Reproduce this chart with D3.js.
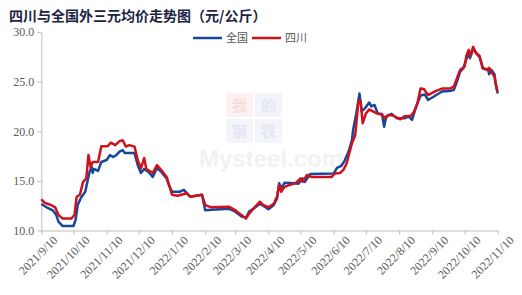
<!DOCTYPE html>
<html>
<head>
<meta charset="utf-8">
<script src="https://cdn.jsdelivr.net/npm/d3@7"></script>
<style>
  body { margin: 0; background: #fff; }
</style>
</head>
<body>
<div id="chart"></div>
<script>
// 全国 series
let qgDates = ['2021-09-10','2021-09-16','2021-09-21','2021-09-24','2021-09-26','2021-09-30','2021-10-10','2021-10-12','2021-10-14','2021-10-17',
  '2021-10-21','2021-10-23','2021-10-25','2021-10-27','2021-10-28','2021-10-29','2021-11-02','2021-11-05','2021-11-10','2021-11-13',
  '2021-11-16','2021-11-19','2021-11-22','2021-11-25','2021-11-27','2021-12-06','2021-12-09','2021-12-12','2021-12-15','2021-12-19',
  '2021-12-23','2021-12-27','2021-12-31','2022-01-05','2022-01-07','2022-01-10','2022-01-17','2022-01-21','2022-01-24','2022-01-27',
  '2022-02-07','2022-02-10','2022-02-16','2022-03-04','2022-03-10','2022-03-16','2022-03-20','2022-03-23','2022-03-27','2022-04-02',
  '2022-04-05','2022-04-10','2022-04-15','2022-04-18','2022-04-20','2022-04-22','2022-04-25','2022-05-05','2022-05-08','2022-05-12',
  '2022-05-14','2022-05-19','2022-06-10','2022-06-13','2022-06-17','2022-06-20','2022-06-24','2022-06-27','2022-06-28','2022-07-01',
  '2022-07-04','2022-07-06','2022-07-09','2022-07-13','2022-07-15','2022-07-18','2022-07-21','2022-07-25','2022-07-27','2022-07-29',
  '2022-08-03','2022-08-08','2022-08-15','2022-08-19','2022-08-22','2022-08-26','2022-08-30','2022-09-03','2022-09-06','2022-09-13',
  '2022-09-19','2022-09-26','2022-09-30','2022-10-03','2022-10-06','2022-10-09','2022-10-12','2022-10-14','2022-10-15','2022-10-18',
  '2022-10-21','2022-10-24','2022-10-26','2022-10-27','2022-11-01','2022-11-02','2022-11-04','2022-11-07','2022-11-08','2022-11-10'];
let qgValues = [12.67,12.27,12.0,11.56,10.9,10.45,10.45,11.06,12.57,13.3,
  13.9,14.9,15.9,16.4,15.8,16.2,16.0,16.9,17.1,17.6,
  17.4,17.6,17.95,18.1,17.8,17.8,16.6,15.8,16.2,15.9,
  15.4,16.3,15.9,15.25,14.6,13.9,13.9,14.1,13.75,13.4,
  13.6,12.05,12.1,12.2,11.9,11.4,11.3,11.9,12.2,12.7,
  12.5,12.15,12.57,13.2,14.75,14.25,14.8,14.75,14.7,15.25,
  14.9,15.7,15.75,16.3,16.5,17.0,18.0,19.1,20.1,21.8,
  23.8,22.0,22.3,22.9,22.5,22.65,21.8,21.75,20.45,21.5,
  21.75,21.3,21.3,21.5,21.15,22.5,23.6,23.7,23.15,23.6,
  24.0,24.05,24.15,25.0,26.0,26.35,27.35,28.0,27.35,28.35,
  27.85,27.5,26.85,26.35,26.2,25.75,26.2,25.75,24.85,23.8];

// 四川 series
let scDates = ['2021-09-10','2021-09-13','2021-09-19','2021-09-23','2021-09-26','2021-09-30','2021-10-08','2021-10-11','2021-10-13','2021-10-16',
  '2021-10-19','2021-10-22','2021-10-24','2021-10-26','2021-10-28','2021-11-02','2021-11-05','2021-11-11','2021-11-14','2021-11-18',
  '2021-11-22','2021-11-25','2021-11-28','2021-12-01','2021-12-06','2021-12-09','2021-12-12','2021-12-15','2021-12-17','2021-12-23',
  '2021-12-27','2021-12-31','2022-01-05','2022-01-07','2022-01-10','2022-01-15','2022-01-24','2022-01-27','2022-02-07','2022-02-10',
  '2022-02-15','2022-03-04','2022-03-10','2022-03-16','2022-03-20','2022-03-23','2022-03-27','2022-04-02','2022-04-05','2022-04-10',
  '2022-04-15','2022-04-18','2022-04-20','2022-04-22','2022-04-25','2022-04-30','2022-05-05','2022-05-10','2022-05-12','2022-05-16',
  '2022-05-20','2022-06-08','2022-06-11','2022-06-16','2022-06-19','2022-06-22','2022-06-24','2022-06-27','2022-06-30','2022-07-03',
  '2022-07-05','2022-07-07','2022-07-10','2022-07-13','2022-07-20','2022-07-25','2022-07-28','2022-07-31','2022-08-05','2022-08-11',
  '2022-08-15','2022-08-21','2022-08-24','2022-08-27','2022-08-30','2022-09-02','2022-09-06','2022-09-13','2022-09-19','2022-09-26',
  '2022-09-30','2022-10-03','2022-10-06','2022-10-10','2022-10-12','2022-10-14','2022-10-16','2022-10-18','2022-10-21','2022-10-24',
  '2022-10-27','2022-10-31','2022-11-02','2022-11-04','2022-11-07','2022-11-09','2022-11-10'];
let scValues = [13.15,12.8,12.57,12.34,11.56,11.2,11.2,11.56,13.4,13.6,
  14.9,15.25,17.6,16.4,16.9,16.9,18.5,18.5,18.85,18.6,
  19.0,19.1,18.45,18.6,18.45,17.1,16.25,17.3,16.2,15.8,
  16.6,16.1,15.4,14.7,13.6,13.5,13.75,13.4,13.6,12.55,
  12.35,12.4,12.05,11.55,11.2,11.7,12.2,12.9,12.57,12.35,
  12.7,13.4,14.6,13.9,14.4,14.6,14.75,15.25,14.9,15.6,
  15.4,15.4,15.75,15.8,16.1,16.75,17.6,18.8,19.6,23.0,
  23.1,20.8,21.8,22.2,21.8,21.65,21.3,21.65,21.55,21.2,
  21.5,21.55,22.0,22.8,24.3,24.25,23.65,24.05,24.3,24.3,
  24.5,25.35,26.2,26.5,27.7,28.2,27.6,28.5,27.85,27.6,
  26.35,26.2,26.4,26.0,25.5,24.3,24.0];

let seriesNames = ['全国', '四川'];
let seriesColors = ['#15489a', '#d0111c'];
let yTicks = [10, 15, 20, 25, 30];
let xTicks = ['2021-09-10','2021-10-10','2021-11-10','2021-12-10','2022-01-10','2022-02-10','2022-03-10',
  '2022-04-10','2022-05-10','2022-06-10','2022-07-10','2022-08-10','2022-09-10','2022-10-10','2022-11-10'];
let titleText = '四川与全国外三元均价走势图（元/公斤）';

let width = 522, height = 295;
let parse = d3.timeParse('%Y-%m-%d');
let fmt = d3.timeFormat('%Y/%-m/%-d');

let svg = d3.select('#chart').
  append('svg').
  attr('width', width).
  attr('height', height);

let x = d3.scaleTime().
  domain([parse(xTicks[0]), parse(xTicks[xTicks.length - 1])]).
  range([41.3, 497.7]);

let y = d3.scaleLinear().
  domain([10, 30]).
  range([230.5, 32]);

// faint watermark
let wm = svg.append('g');
let wmChars = ['我', '的', '钢', '铁'];
let wmFill = ['#fdf1f1', '#f3f5fa', '#f3f5fa', '#f4f5fa'];
let wmText = ['#f7dcdc', '#e3e7f2', '#e3e7f2', '#e3e7f2'];
wmChars.forEach(function (c, i) {
  let bx = 226 + (i % 2) * 29, by = 93 + Math.floor(i / 2) * 26;
  wm.append('rect').attr('x', bx).attr('y', by).attr('width', 27).attr('height', 24).attr('fill', wmFill[i]);
  wm.append('text').attr('x', bx + 13.5).attr('y', by + 18).attr('text-anchor', 'middle').
    attr('font-family', 'Noto Sans CJK SC').attr('font-weight', 'bold').attr('font-size', 15).
    attr('fill', wmText[i]).text(c);
});
wm.append('text').
  attr('x', 271).attr('y', 167).
  attr('text-anchor', 'middle').
  attr('font-family', 'Liberation Sans').
  attr('font-weight', 'bold').
  attr('font-size', 24).
  attr('fill', '#f2f2f2').
  text('Mysteel.com');

// title
svg.append('text').
  attr('x', 9).
  attr('y', 21).
  attr('font-family', 'Noto Sans CJK SC').
  attr('font-weight', 'bold').
  attr('font-size', 14).
  attr('fill', '#1c2444').
  text(titleText);

// axes
let yAxis = svg.append('g').
  attr('transform', 'translate(41.3,0)').
  call(d3.axisLeft(y).tickValues(yTicks).tickFormat(d3.format('.1f')).tickSize(4).tickSizeOuter(0));

let xAxis = svg.append('g').
  attr('transform', 'translate(0,230.5)').
  call(d3.axisBottom(x).tickValues(xTicks.map(parse)).tickFormat(fmt).tickSize(4).tickSizeOuter(0));

svg.selectAll('.domain, .tick line').attr('stroke', '#bdbdbd');
svg.selectAll('.tick text').
  attr('font-family', 'Liberation Serif').
  attr('font-size', 12).
  attr('fill', '#5a5a5a');
yAxis.selectAll('.tick text').attr('x', -7);
xAxis.selectAll('.tick text').
  attr('text-anchor', 'end').
  attr('transform', 'translate(6,0) rotate(-45)').
  attr('dy', '0.9em').
  attr('y', 4);

// lines
let line = d3.line().
  x(d => x(d.date)).
  y(d => y(d.value));

let series = [
  qgDates.map((d, i) => ({ date: parse(d), value: qgValues[i] })),
  scDates.map((d, i) => ({ date: parse(d), value: scValues[i] }))];

series.forEach(function (s, i) {
  svg.append('path').
    datum(s).
    attr('fill', 'none').
    attr('stroke', seriesColors[i]).
    attr('stroke-width', 2.5).
    attr('stroke-linejoin', 'round').
    attr('d', line);
});

// legend
let legend = svg.append('g');
let legendX = [193, 252];
seriesNames.forEach(function (n, i) {
  legend.append('line').
    attr('x1', legendX[i]).attr('x2', legendX[i] + 29).
    attr('y1', 38).attr('y2', 38).
    attr('stroke', seriesColors[i]).
    attr('stroke-width', 2.5);
  legend.append('text').
    attr('x', legendX[i] + 33).
    attr('y', 42).
    attr('font-family', 'Noto Sans CJK SC').
    attr('font-size', 11).
    attr('fill', '#555').
    text(n);
});
</script>
</body>
</html>
